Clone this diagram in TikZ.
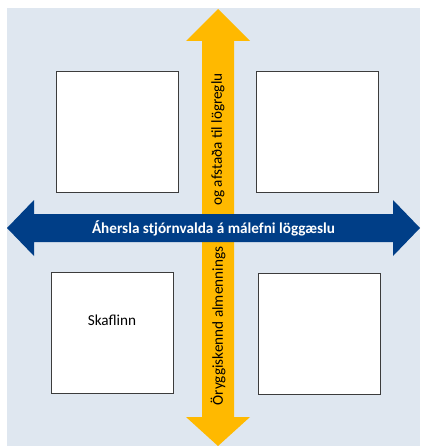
\documentclass[tikz,border=0pt]{standalone}
\usepackage{fontspec}
\setmainfont{Carlito}
\definecolor{bgc}{RGB}{223,231,240}
\definecolor{yel}{RGB}{255,185,0}
\definecolor{blu}{RGB}{0,62,135}
\definecolor{edge}{RGB}{60,60,60}
\tikzset{
  quad/.style={draw=edge, line width=0.8pt, fill=white, minimum width=122pt, minimum height=121pt, inner sep=0pt},
  lbl/.style={font=\fontsize{15.2}{17}\selectfont, inner sep=0pt}
}
\begin{document}
\begin{tikzpicture}[x=1pt,y=-1pt]
\useasboundingbox (0,0) rectangle (420,446);
\fill[bgc] (7,8) rectangle (420,446);
% vertical yellow arrow
\fill[yel] (218,9) -- (250,41) -- (234,41) -- (234,417) -- (250,417) -- (218,446) -- (186,417) -- (202,417) -- (202,41) -- (186,41) -- cycle;
\node[lbl, rotate=90] (vlow) at (218,326) {Öryggiskennd almennings};
\node[lbl, rotate=90] (vup) at (218,139.5) {og afstaða til lögreglu};
% horizontal blue arrow
\fill[blu] (7,228) -- (34,200) -- (34,214) -- (393,214) -- (393,200) -- (420,228) -- (393,256) -- (393,242) -- (34,242) -- (34,256) -- cycle;
\node[lbl, font=\fontsize{15.2}{17}\selectfont\bfseries, text=white] (htxt) at (213.5,228) {Áhersla stjórnvalda á málefni löggæslu};
% boxes
\node[quad] (tl) at (117,131.5) {};
\node[quad] (tr) at (317,131.5) {};
\node[quad] (bl) at (112.5,332.5) {};
\node[quad] (br) at (319,334) {};
\node[lbl] (skaf) at (112,320) {Skaflinn};
\end{tikzpicture}
\end{document}
